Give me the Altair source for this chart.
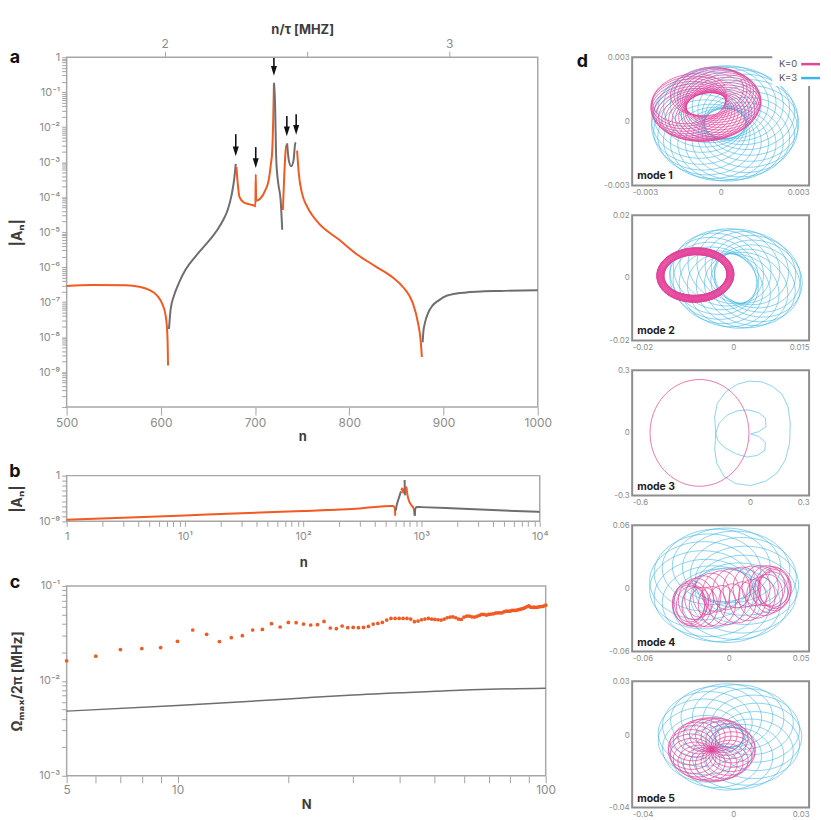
import numpy as np
import pandas as pd
import altair as alt

FONT = "Inter, 'DejaVu Sans', sans-serif"
ORANGE = "#F15A22"
GREY = "#6E6E6E"
MAGENTA = "#E6449B"
CYAN = "#3CB6E8"
LABEL = "#8C8C8C"
TICK = "#A3A3A3"
TITLE = "#3C3C3C"
FRAME = "#A8A8A8"

# ---------------- panel a : |A_n| vs n (segments alternate sign) ----------------
A1_N = [500, 527.5, 562.8, 576.9, 587.5, 596.3, 601.6, 605.1, 606.8, 607.3, 607.6]
A1_L = [-6.54, -6.51, -6.52, -6.56, -6.65, -6.82, -7.06, -7.39, -7.87, -8.3, -8.81]
A2_N = [608.6, 610.4, 613.9, 619.2, 626.3, 636.9, 647.5, 654.0, 660.0, 666.0, 671.0, 675.0, 678.0, 679.5]
A2_L = [-7.77, -7.20, -6.82, -6.45, -6.07, -5.69, -5.36, -5.15, -4.93, -4.66, -4.36, -3.95, -3.45, -3.05]
A3_N = [680.2, 681.6, 683.4, 688.0, 693.3, 699.6, 700.3, 700.7, 701.1, 701.4, 705.6, 710.9, 714.4, 716.8, 718.2, 719.3, 720.0]
A3_L = [-3.14, -3.61, -3.99, -4.15, -4.20, -4.25, -4.27, -3.35, -4.05, -4.10, -4.04, -3.80, -3.52, -3.05, -2.67, -1.72, -0.78]
A4_N = [720.1, 721.1, 722.5, 724.6, 727.1, 728.8]
A4_L = [-0.73, -1.25, -2.95, -3.61, -4.08, -4.93]
A5_N = [729.5, 730.9, 732.4, 733.4]
A5_L = [-4.37, -3.42, -2.67, -2.50]
A6_N = [734.0, 735.8, 738.3, 740.8, 742.5, 743.3]
A6_L = [-2.46, -2.95, -3.12, -2.95, -2.48, -2.44]
A7_N = [744.6, 746.4, 749.9, 755.2, 760.5, 767.6, 789.3, 808.3, 827.3, 846.2, 857.6, 867.1, 872.8, 875.9, 877.0]
A7_L = [-2.67, -3.33, -3.90, -4.27, -4.51, -4.75, -5.22, -5.64, -5.97, -6.30, -6.59, -7.01, -7.58, -8.15, -8.57]
A8_N = [877.8, 878.6, 880.4, 883.5, 888.0, 895.0, 903.2, 922.2, 960.1, 1000]
A8_L = [-8.15, -7.85, -7.58, -7.32, -7.11, -6.95, -6.82, -6.73, -6.68, -6.66]
A_SIGNS = ["pos", "neg", "pos", "neg", "pos", "neg", "pos", "neg"]

ARROW_N = [679.5, 700.7, 720.0, 733.7, 743.6]
ARROW_TOP_L = [-2.20, -2.57, -0.02, -1.68, -1.63]
ARROW_HEAD_L = [-2.69, -3.03, -0.39, -2.12, -2.08]

TAU = 302.0  # n/tau top axis
A_XTICKS = [500, 600, 700, 800, 900, 1000]

# ---------------- panel b : log-log view ----------------
B1_N = [1, 3, 10, 30, 100, 300, 571, 590, 597, 600]
B1_L = [-8.69, -8.3, -7.84, -7.4, -6.95, -6.45, -5.98, -6.15, -6.7, -7.9]
B2_N = [606, 615, 640, 671]
B2_L = [-6.9, -6.0, -4.6, -3.1]
B3_N = [676, 685, 695, 702, 712, 718]
B3_L = [-2.9, -2.5, -3.3, -2.9, -3.3, -2.4]
B4_N = [720, 723, 729]
B4_L = [-0.85, -2.6, -3.9]
B5_N = [731, 736, 746, 755, 780, 820, 860, 876]
B5_L = [-3.0, -2.3, -2.3, -3.3, -4.8, -5.8, -6.5, -7.9]
B6_N = [879, 886, 909, 1000, 2000, 5000, 10000]
B6_L = [-7.9, -6.6, -6.17, -6.2, -6.48, -6.86, -7.14]
B_SIGNS = ["pos", "neg", "pos", "neg", "pos", "neg"]

# ---------------- panel c : Omega_max/2pi vs N ----------------
C_N = list(range(5, 101))
C_OMEGA = [0.01627, 0.01820, 0.02138, 0.02190, 0.02243, 0.02611, 0.03436, 0.03090, 0.02592, 0.02853,
           0.02994, 0.03436, 0.03486, 0.04000, 0.03694, 0.04127, 0.04098, 0.03970, 0.03878, 0.03906,
           0.04227, 0.03606, 0.03545, 0.03785, 0.03633, 0.03660, 0.03633, 0.03660, 0.03749, 0.03970,
           0.04029, 0.04127, 0.04372, 0.04545, 0.04545, 0.04545, 0.04545, 0.04545, 0.04479, 0.04198,
           0.04270, 0.04406, 0.04479, 0.04545, 0.04479, 0.04438, 0.04406, 0.04370, 0.04477, 0.04624,
           0.04698, 0.04735, 0.04624, 0.04477, 0.04441, 0.04698, 0.04812, 0.04812, 0.04735, 0.04698,
           0.04773, 0.04890, 0.05010, 0.05010, 0.04931, 0.05010, 0.05050, 0.05091, 0.05174, 0.05216,
           0.05216, 0.05216, 0.05342, 0.05429, 0.05429, 0.05429, 0.05517, 0.05517, 0.05517, 0.05607,
           0.05652, 0.05744, 0.05790, 0.05931, 0.06075, 0.06173, 0.05979, 0.05931, 0.05979, 0.05931,
           0.05979, 0.06027, 0.06075, 0.06075, 0.06173, 0.06273]
CL_N = [5, 10, 20, 30, 50, 70, 100]
CL_OMEGA = [0.0048, 0.0055, 0.00645, 0.00711, 0.00776, 0.00815, 0.00834]

# ---------------- panel d : mode trajectories (loop parameters read off) ----------------
# [cx, cy, centre-orbit rx, centre-orbit ry, loop a, loop b, loop tilt deg, phi0, phi1, loops, orbit tilt deg]
M1_K0 = [-0.0005, 0.0008, 0.0006, 0.0006, 0.0013, 0.0011, 25, 150, 450, 26, 0]
M1_K3 = [0.00015, -0.0001, 0.0009, 0.0010, 0.0016, 0.0017, 0, 0, 360, 22, 0]
M2_K0 = [-0.0075, 0.0009, 0.0007, 0.0011, 0.0069, 0.0076, -10, 0, 360, 30, 0]
M2_K3 = [0.0005, -0.0002, 0.0045, 0.0040, 0.0085, 0.0120, 10, 0, 360, 16, 0]
M3_K0 = [-0.2575, 0.0, 0.0, 0.0, 0.2515, 0.2556, 0, 0, 0, 1, 0]
M3_K3_X = [-0.175, -0.180, -0.167, -0.124, -0.065, -0.006, 0.061, 0.112, 0.162, 0.193, 0.204, 0.201,
           0.179, 0.137, 0.078, 0.002, -0.074, -0.133, -0.170, -0.180, -0.175, -0.158, -0.116, -0.065,
           -0.006, 0.044, 0.078, 0.081, 0.044, 0.002, 0.044, 0.078, 0.075, 0.036, -0.015, -0.074,
           -0.124, -0.162, -0.175]
M3_K3_Y = [-0.005, 0.078, 0.141, 0.197, 0.233, 0.248, 0.244, 0.224, 0.186, 0.125, 0.046, -0.049,
           -0.129, -0.192, -0.232, -0.252, -0.243, -0.208, -0.144, -0.081, -0.005, 0.046, 0.086, 0.106,
           0.110, 0.097, 0.070, 0.030, 0.006, -0.005, -0.017, -0.046, -0.084, -0.108, -0.116, -0.100,
           -0.073, -0.041, -0.005]
M4_K0 = [0.002, -0.0075, 0.028, 0.007, 0.010, 0.019, 0, 0, 360, 26, 16]
M4_K3 = [-0.003, 0.003, 0.0145, 0.0195, 0.032, 0.035, 0, 0, 360, 14, 0]
M5_K0 = [-0.0085, -0.0078, 0.0085, 0.0085, 0.0088, 0.0092, 0, 0, 360, 22, 0]
M5_K3 = [-0.0014, -0.0008, 0.0115, 0.0120, 0.0170, 0.0175, 0, 0, 360, 16, 0]

M_XDOM = [[-0.003, 0.003], [-0.02, 0.015], [-0.6, 0.3], [-0.06, 0.05], [-0.04, 0.03]]
M_YDOM = [[-0.003, 0.003], [-0.02, 0.02], [-0.3, 0.3], [-0.06, 0.06], [-0.04, 0.03]]
M_XLAB = [["-0.003", "0", "0.003"], ["-0.02", "0", "0.015"], ["-0.6", "0", "0.3"],
          ["-0.06", "0", "0.05"], ["-0.04", "0", "0.03"]]
M_YLAB = [["-0.003", "0", "0.003"], ["-0.02", "0", "0.02"], ["-0.3", "0", "0.3"],
          ["-0.06", "0", "0.06"], ["-0.04", "0", "0.03"]]
M_HEIGHT = [129, 126, 126, 127, 127]

# ---------------- helpers ----------------
SUP = str.maketrans("-0123456789", "⁻⁰¹²³⁴⁵⁶⁷⁸⁹")


def pow_label(e):
    return "1" if e == 0 else "10" + str(e).translate(SUP)


def log_expr(pairs):
    expr = "''"
    for v, lab in reversed(list(pairs)):
        expr = f"abs(log(datum.value)/LN10 - ({np.log10(v):.6f})) < 0.001 ? '{lab}' : {expr}"
    return expr


def lin_expr(pairs):
    expr = "''"
    for v, lab in reversed(list(pairs)):
        expr = f"abs(datum.value - ({v})) < 1e-9 ? '{lab}' : {expr}"
    return expr


def seg_frame(segs, signs):
    rows = []
    for k, ((ns, ls), sg) in enumerate(zip(segs, signs)):
        for n, l in zip(ns, ls):
            rows.append({"n": n, "A": 10.0 ** l, "sign": sg, "seg": k})
    return pd.DataFrame(rows)


def label_layer(txt, x, y, size=18, align="center", weight="bold", color="#111"):
    return alt.Chart(pd.DataFrame({"t": [txt]})).mark_text(
        align=align, baseline="middle", fontSize=size, fontWeight=weight, color=color, font=FONT
    ).encode(text="t:N", x=alt.value(x), y=alt.value(y))


def extender(y):
    # invisible text that only widens the layout bounds upward
    return alt.Chart(pd.DataFrame({"t": ["."]})).mark_text(
        baseline="top", fontSize=2, opacity=0
    ).encode(text="t:N", x=alt.value(0), y=alt.value(y))


SIGN_COLOR = alt.Color("sign:N", scale=alt.Scale(domain=["pos", "neg"], range=[ORANGE, GREY]), legend=None)
YEXT = 34
YTITLE_PAD = 8

# ---------------- panel a ----------------
a_df = seg_frame([(A1_N, A1_L), (A2_N, A2_L), (A3_N, A3_L), (A4_N, A4_L), (A5_N, A5_L),
                  (A6_N, A6_L), (A7_N, A7_L), (A8_N, A8_L)], A_SIGNS)
a_xscale = alt.Scale(domain=[500, 1000], nice=False, zero=False)
a_yscale = alt.Scale(type="log", domain=[1e-10, 1], nice=False)
A_YTICKS = [k * 10.0 ** e for e in range(-10, 0) for k in range(1, 10)] + [1.0]
a_ylabels = [(10.0 ** e, pow_label(e)) for e in range(-9, 1)]
a_yaxis = alt.Axis(values=A_YTICKS, labelExpr=log_expr(a_ylabels), tickSize=5, labelPadding=2,
                   labelFontSize=11, labelOverlap=False, minExtent=YEXT, maxExtent=YEXT,
                   title="|Aₙ|", titleFontSize=14, titleFontWeight="bold", titlePadding=YTITLE_PAD)

a_line = alt.Chart(a_df).mark_line(strokeWidth=2, interpolate="monotone").encode(
    x=alt.X("n:Q", scale=a_xscale,
            axis=alt.Axis(values=A_XTICKS, format="d", tickSize=8, labelPadding=3, labelFontSize=12,
                          labelFlush=False, title="n", titleFontSize=13, titleFontWeight="bold",
                          titlePadding=2)),
    y=alt.Y("A:Q", scale=a_yscale, axis=a_yaxis),
    color=SIGN_COLOR,
    detail="seg:N",
)

arrow_df = pd.DataFrame({"n": ARROW_N, "top": [10.0 ** v for v in ARROW_TOP_L],
                         "head": [10.0 ** v for v in ARROW_HEAD_L]})
a_shaft = alt.Chart(arrow_df).mark_rule(color="#111", strokeWidth=1.6).encode(
    x=alt.X("n:Q", scale=a_xscale, axis=None),
    y=alt.Y("top:Q", scale=a_yscale, title="|Aₙ|"),
    y2="head:Q",
)
a_head = alt.Chart(arrow_df).mark_point(shape="M -0.62 -1 L 0.62 -1 L 0 1 Z", filled=True, color="#111",
                                        opacity=1, size=95, strokeWidth=0).encode(
    x=alt.X("n:Q", scale=a_xscale, axis=None),
    y=alt.Y("head:Q", scale=a_yscale, title="|Aₙ|"),
)
top_vals = [2 * TAU, 2.5 * TAU, 3 * TAU]
a_top = alt.Chart(pd.DataFrame({"n": [500, 1000]})).mark_point(opacity=0).encode(
    x=alt.X("n:Q", scale=a_xscale,
            axis=alt.Axis(orient="top", values=top_vals,
                          labelExpr=f"datum.value < {2.2 * TAU} ? '2' : (datum.value > {2.8 * TAU} ? '3' : '')",
                          tickSize=6, labelPadding=1, labelFontSize=12, labelFlush=False,
                          title="n/τ [MHZ]", titleFontSize=13, titleFontWeight="bold", titlePadding=1)),
    y=alt.value(0),
)
panel_a = alt.layer(a_line, a_shaft, a_head, a_top, label_layer("a", -52, 1)).resolve_axis(
    x="independent").properties(width=474, height=352)

# ---------------- panel b ----------------
b_df = seg_frame([(B1_N, B1_L), (B2_N, B2_L), (B3_N, B3_L), (B4_N, B4_L), (B5_N, B5_L), (B6_N, B6_L)], B_SIGNS)
B_XTICKS = [k * 10 ** e for e in range(0, 4) for k in range(1, 10)] + [10000]
B_YTICKS = [10.0 ** e for e in range(-9, 1)]
b_line = alt.Chart(b_df).mark_line(strokeWidth=2, interpolate="monotone").encode(
    x=alt.X("n:Q", scale=alt.Scale(type="log", domain=[1, 10000], nice=False),
            axis=alt.Axis(values=B_XTICKS, labelExpr=log_expr([(10 ** e, pow_label(e)) for e in range(0, 5)]),
                          tickSize=5, labelPadding=4, labelFontSize=11, labelFlush=False, labelOverlap=False,
                          title="n", titleFontSize=13, titleFontWeight="bold", titlePadding=15)),
    y=alt.Y("A:Q", scale=alt.Scale(type="log", domain=[1e-9, 1], nice=False),
            axis=alt.Axis(values=B_YTICKS, labelExpr=log_expr([(1e-9, pow_label(-9)), (1.0, "1")]),
                          tickSize=5, labelPadding=2, labelFontSize=11, labelOverlap=False,
                          minExtent=YEXT, maxExtent=YEXT, title="|Aₙ|", titleFontSize=14,
                          titleFontWeight="bold", titlePadding=YTITLE_PAD)),
    color=SIGN_COLOR,
    detail="seg:N",
)
panel_b = alt.layer(b_line, label_layer("b", -52, -4), extender(-27)).properties(width=476, height=46)

# ---------------- panel c ----------------
c_df = pd.DataFrame({"N": C_N, "W": C_OMEGA})
cl_df = pd.DataFrame({"N": CL_N, "W": CL_OMEGA})
c_xscale = alt.Scale(type="log", domain=[5, 100], nice=False)
c_yscale = alt.Scale(type="log", domain=[1e-3, 1e-1], nice=False)
C_XTICKS = [5, 6, 7, 8, 9, 10, 20, 30, 40, 50, 60, 70, 80, 90, 100]
C_YTICKS = [k * 10.0 ** e for e in (-3, -2) for k in range(1, 10)] + [0.1]
c_x = alt.X("N:Q", scale=c_xscale,
            axis=alt.Axis(values=C_XTICKS, labelExpr=lin_expr([(5, "5"), (10, "10"), (100, "100")]),
                          tickSize=7, labelPadding=2, labelFontSize=12, labelFlush=False, labelOverlap=False,
                          title="N", titleFontSize=13, titleFontWeight="bold", titlePadding=3))
c_y = alt.Y("W:Q", scale=c_yscale,
            axis=alt.Axis(values=C_YTICKS, labelExpr=log_expr([(10.0 ** e, pow_label(e)) for e in (-3, -2, -1)]),
                          tickSize=5, labelPadding=2, labelFontSize=11, labelOverlap=False,
                          minExtent=YEXT, maxExtent=YEXT, title="Ωₘₐₓ/2π [MHz]", titleFontSize=14,
                          titleFontWeight="bold", titlePadding=YTITLE_PAD))
c_line = alt.Chart(cl_df).mark_line(color=GREY, strokeWidth=1.5, interpolate="monotone").encode(x=c_x, y=c_y)
c_dots = alt.Chart(c_df).mark_circle(color=ORANGE, size=14, opacity=1).encode(x=c_x, y=c_y)
panel_c = alt.layer(c_line, c_dots, label_layer("c", -52, -3)).properties(width=482, height=191)


# ---------------- panel d ----------------
def traj_df(p, pts=80):
    cx, cy, rcx, rcy, a, b, tilt, p0, p1, loops, otilt = p
    t = np.linspace(0.0, 1.0, int(loops * pts) + 1)
    psi = 2 * np.pi * loops * t
    phi = np.radians(p0 + (p1 - p0) * t)
    th, ot = np.radians(tilt), np.radians(otilt)
    ex, ey = a * np.cos(psi), b * np.sin(psi)
    ox, oy = rcx * np.cos(phi), rcy * np.sin(phi)
    x = cx + ox * np.cos(ot) - oy * np.sin(ot) + ex * np.cos(th) - ey * np.sin(th)
    y = cy + ox * np.sin(ot) + oy * np.cos(ot) + ex * np.sin(th) + ey * np.cos(th)
    return pd.DataFrame({"x": x, "y": y, "i": np.arange(len(t))})


m3_k3_df = pd.DataFrame({"x": M3_K3_X, "y": M3_K3_Y, "i": range(len(M3_K3_X))})
K3_DATA = [traj_df(M1_K3), traj_df(M2_K3), m3_k3_df, traj_df(M4_K3), traj_df(M5_K3)]
K0_DATA = [traj_df(M1_K0), traj_df(M2_K0), traj_df(M3_K0, pts=160), traj_df(M4_K0), traj_df(M5_K0)]


def mode_panel(k):
    xdom, ydom, h = M_XDOM[k], M_YDOM[k], M_HEIGHT[k]
    xvals = [xdom[0], 0, xdom[1]]
    yvals = [ydom[0], 0, ydom[1]]
    xs = alt.Scale(domain=xdom, nice=False, zero=False)
    ys = alt.Scale(domain=ydom, nice=False, zero=False)
    xenc = alt.X("x:Q", scale=xs, title=None,
                 axis=alt.Axis(values=xvals, labelExpr=lin_expr(zip(xvals, M_XLAB[k])), ticks=False,
                               labelPadding=3, labelFontSize=8))
    yenc = alt.Y("y:Q", scale=ys, title=None,
                 axis=alt.Axis(values=yvals, labelExpr=lin_expr(zip(yvals, M_YLAB[k])), ticks=False,
                               labelPadding=3, labelFontSize=8, minExtent=30, maxExtent=30))
    cy_l = alt.Chart(K3_DATA[k]).mark_line(color=CYAN, strokeWidth=0.6, clip=True).encode(
        x=xenc, y=yenc, order="i:Q")
    mg_l = alt.Chart(K0_DATA[k]).mark_line(color=MAGENTA, strokeWidth=0.75, clip=True).encode(
        x=xenc, y=yenc, order="i:Q")
    layers = [cy_l, mg_l, label_layer(f"mode {k + 1}", 5, h - 9, size=10.5, align="left", color="#1E1E1E")]
    if k == 0:
        leg_rect = alt.Chart(pd.DataFrame({"v": [0]})).mark_rect(color="white").encode(
            x=alt.value(141), x2=alt.value(190), y=alt.value(-3), y2=alt.value(29))
        leg_l0 = alt.Chart(pd.DataFrame({"v": [0]})).mark_rule(color=MAGENTA, strokeWidth=2.5).encode(
            x=alt.value(170), x2=alt.value(189), y=alt.value(7))
        leg_l3 = alt.Chart(pd.DataFrame({"v": [0]})).mark_rule(color=CYAN, strokeWidth=2.5).encode(
            x=alt.value(170), x2=alt.value(189), y=alt.value(21))
        layers += [leg_rect, leg_l0, leg_l3,
                   label_layer("K=0", 166, 7, size=9.5, align="right", weight="normal", color="#555"),
                   label_layer("K=3", 166, 21, size=9.5, align="right", weight="normal", color="#555"),
                   label_layer("d", -50, 5), extender(-30)]
    return alt.layer(*layers).properties(width=178, height=h,
                                         view=alt.ViewBackground(stroke="#8E8E8E", strokeWidth=2))


left = alt.vconcat(panel_a, panel_b, panel_c, spacing=3)
right = alt.vconcat(*[mode_panel(k) for k in range(5)], spacing=13)

chart = alt.hconcat(left, right, spacing=19).properties(
    padding={"left": 0, "top": 12, "right": 0, "bottom": 0}
).configure_view(stroke=FRAME, strokeWidth=1.5).configure_axis(
    labelFont=FONT, titleFont=FONT, labelColor=LABEL, titleColor=TITLE, tickColor=TICK,
    domain=False, grid=False
).configure_text(font=FONT)

chart.save("out.html", embed_options={"renderer": "svg", "actions": False})
